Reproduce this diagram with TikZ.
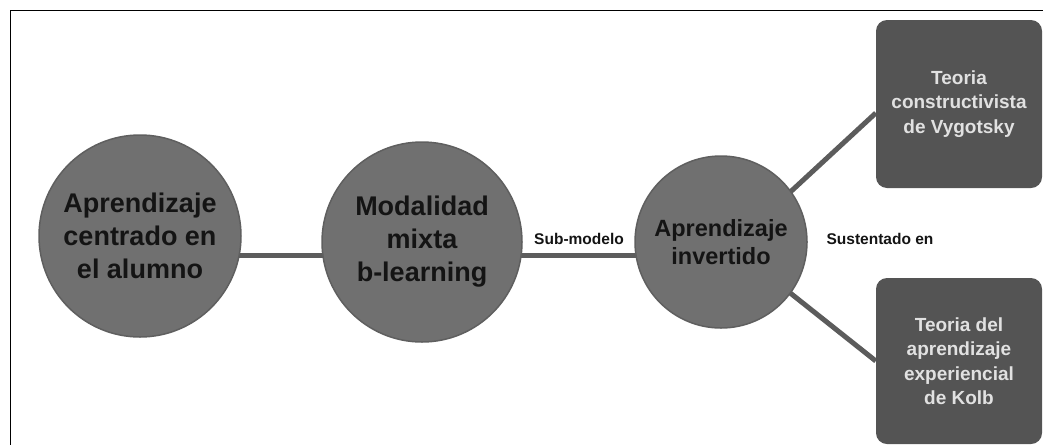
\documentclass[tikz,border=0pt]{standalone}
\usepackage{fontspec}
\setmainfont{Liberation Sans}
\usetikzlibrary{backgrounds}
\definecolor{circfill}{RGB}{112,112,112}
\definecolor{circdraw}{RGB}{95,95,95}
\definecolor{boxfill}{RGB}{84,84,84}
\definecolor{linkcol}{RGB}{92,92,92}
\definecolor{boxtext}{RGB}{225,225,225}
\definecolor{circtext}{RGB}{20,20,20}
\begin{document}
\begin{tikzpicture}[x=1pt,y=-1pt,
  bigcirc/.style={circle,fill=circfill,draw=circdraw,line width=1.5pt,inner sep=0pt,align=center,text=circtext,font=\bfseries\fontsize{27}{33}\selectfont},
  smallcirc/.style={circle,fill=circfill,draw=circdraw,line width=1.5pt,inner sep=0pt,align=center,text=circtext,font=\bfseries\fontsize{23.5}{27.5}\selectfont},
  theorybox/.style={rectangle,rounded corners=11pt,fill=boxfill,inner sep=0pt,minimum width=166pt,align=center,text=boxtext,font=\bfseries\fontsize{19}{24.5}\selectfont},
  link/.style={draw=linkcol,line width=5pt},
  lbl/.style={font=\bfseries\fontsize{15.5}{18}\selectfont,text=circtext,inner sep=0pt}]
\useasboundingbox (0,0) rectangle (1043,445);
\draw[line width=1.6pt,black] (1043,10.5) -- (10.5,10.5) -- (10.5,445);
\node[bigcirc,minimum size=202pt] (c1) at (140,236) {Aprendizaje\\centrado en\\el alumno};
\node[bigcirc,minimum size=200pt] (c2) at (422,242) {Modalidad\\mixta\\b-learning};
\node[smallcirc,minimum size=172pt] (c3) at (721,242) {Aprendizaje\\invertido};
\node[theorybox,minimum height=168pt] (b1) at (959,104) {Teoria\\constructivista\\de Vygotsky};
\node[theorybox,minimum height=166pt] (b2) at (959,361) {Teoria del\\aprendizaje\\experiencial\\de Kolb};
\begin{pgfonlayer}{background}
\draw[link] ([yshift=-19pt]c1.center) -- ([yshift=-13pt]c2.center);
\draw[link] ([yshift=-13pt]c2.center) -- ([yshift=-13pt]c3.center);
\draw[link] ([yshift=-14pt]c3.center) -- ([yshift=-9pt]b1.west);
\draw[link] ([yshift=4pt]c3.center) -- (b2.west);
\end{pgfonlayer}
\node[lbl] (l1) at (579,239) {Sub-modelo};
\node[lbl] (l2) at (880,239) {Sustentado en};
\end{tikzpicture}
\end{document}
